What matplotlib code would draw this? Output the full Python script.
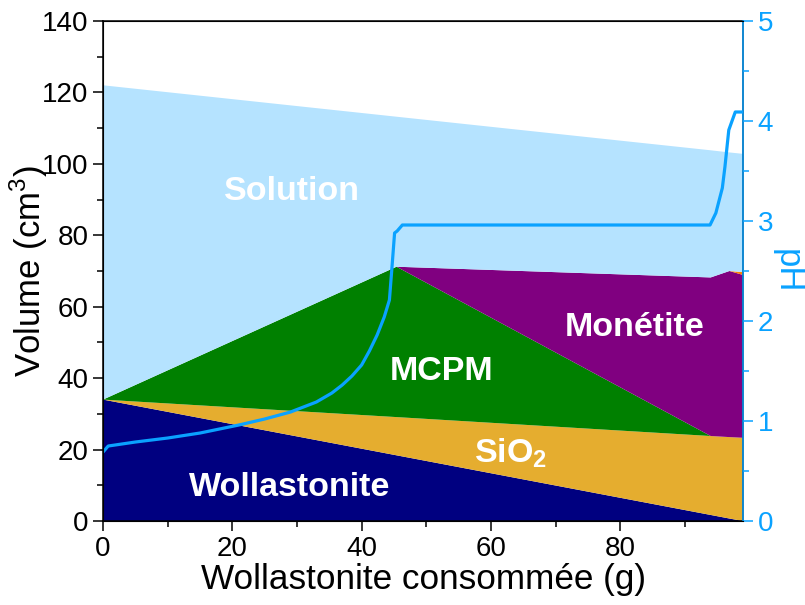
import numpy as np
import matplotlib
matplotlib.use('Agg')
import matplotlib.pyplot as plt
from matplotlib.ticker import MultipleLocator

plt.rcParams['font.family'] = ['Liberation Sans', 'DejaVu Sans']
plt.rcParams['mathtext.fontset'] = 'custom'
plt.rcParams['mathtext.rm'] = 'Liberation Sans'
plt.rcParams['mathtext.bf'] = 'Liberation Sans:bold'

# Phase volumes (cm3) at the breakpoints of the consumption axis
x_vol = [0, 45.4, 94.0, 96.9, 99.0]
wollastonite = [34.0, 18.4, 1.7, 0.7, 0.0]
sio2 = [0.0, 10.7, 22.1, 22.8, 23.3]
mcpm = [0.0, 42.1, 0.0, 0.0, 0.0]
monetite = [0.0, 0.0, 44.4, 46.5, 45.6]
other = [0.0, 0.0, 0.0, 0.0, 0.8]
solution_top = [122.0, 113.2, 103.8, 103.2, 102.8]

# pH of the solution
x_ph = [0, 0.8, 5, 10, 15, 21, 25, 29, 33, 35.4, 37.0, 38.5, 40.0, 41.2, 42.4,
        43.5, 44.3, 44.7, 45.1, 45.5, 46.3, 93.9, 94.8, 95.8, 96.2, 96.8,
        97.8, 99.0]
ph = [0.69, 0.75, 0.79, 0.83, 0.88, 0.96, 1.02, 1.09, 1.19, 1.28, 1.36, 1.45,
      1.56, 1.70, 1.86, 2.04, 2.21, 2.54, 2.88, 2.90, 2.96, 2.96, 3.08, 3.33,
      3.54, 3.91, 4.09, 4.09]

colors = {
    'wol': '#000080',
    'sio2': '#E5AD2F',
    'mcpm': '#008000',
    'mon': '#800080',
    'other': '#FF8000',
    'sol': '#B5E3FF',
}
ph_color = '#0AA2FF'

solids = np.vstack([wollastonite, sio2, mcpm, monetite, other])
solution = np.array(solution_top) - solids.sum(axis=0)

fig = plt.figure(figsize=(8.05, 6.05), dpi=100)
ax = fig.add_axes([0.128, 0.1388, 0.795, 0.8265])
ax.stackplot(x_vol, *solids, solution,
             colors=[colors['wol'], colors['sio2'], colors['mcpm'],
                     colors['mon'], colors['other'], colors['sol']],
             linewidth=0)

ax.set_xlim(0, 99)
ax.set_ylim(0, 140)
ax.xaxis.set_major_locator(MultipleLocator(20))
ax.xaxis.set_minor_locator(MultipleLocator(10))
ax.yaxis.set_major_locator(MultipleLocator(20))
ax.yaxis.set_minor_locator(MultipleLocator(10))
ax.tick_params(which='both', direction='out', labelsize=20, width=1.1)
ax.tick_params(which='major', length=7)
ax.tick_params(which='minor', length=4)
ax.set_xlabel('Wollastonite consommée (g)', fontsize=25.3, labelpad=1)
ax.set_ylabel('Volume (cm$^3$)', fontsize=25)
ax.yaxis.set_label_coords(-0.083, 0.5)
for s in ax.spines.values():
    s.set_linewidth(1.1)

lab = dict(color='white', fontweight='bold', fontsize=24.5, ha='center', va='center')
ax.text(29.3, 92.4, 'Solution', **lab)
ax.text(82.2, 54.3, 'Monétite', **lab)
ax.text(52.4, 42.0, 'MCPM', **lab)
ax.text(63.0, 19.0, r'SiO$_\mathbf{2}$', **lab)
ax.text(28.9, 9.5, 'Wollastonite', **lab)

ax2 = ax.twinx()
ax2.plot(x_ph, ph, color=ph_color, lw=2.3)
ax2.set_ylim(0, 5)
ax2.yaxis.set_major_locator(MultipleLocator(1))
ax2.yaxis.set_minor_locator(MultipleLocator(0.5))
ax2.tick_params(which='both', direction='out', labelsize=20, width=1.1,
                colors=ph_color)
ax2.tick_params(which='major', length=7)
ax2.tick_params(which='minor', length=4)
ax2.spines['right'].set_color(ph_color)
ax2.spines['right'].set_linewidth(1.1)
ax2.set_ylabel('pH', fontsize=25, color=ph_color, rotation=-90, labelpad=22)

fig.savefig('out.png', dpi=100)
